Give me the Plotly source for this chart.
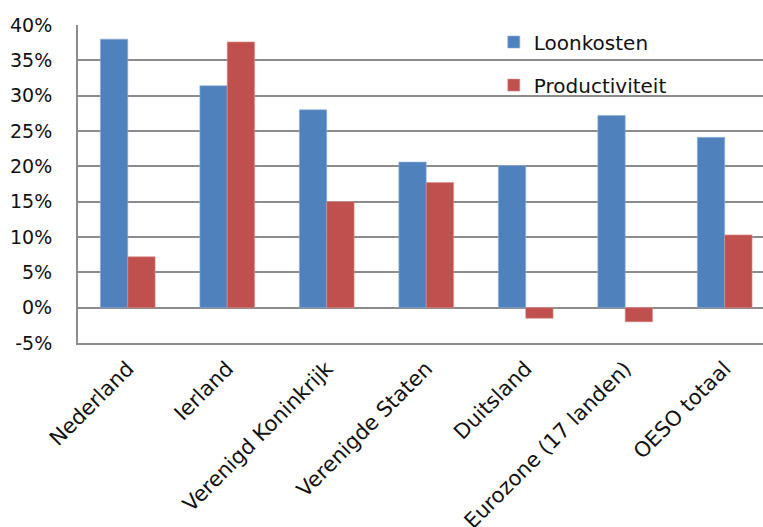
import plotly.graph_objects as go

# Groei van loonkosten en productiviteit per land
landen = ["Nederland", "Ierland", "Verenigd Koninkrijk", "Verenigde Staten",
          "Duitsland", "Eurozone (17 landen)", "OESO totaal"]
loonkosten = [38.0, 31.4, 28.0, 20.6, 20.1, 27.2, 24.1]
productiviteit = [7.2, 37.6, 15.0, 17.7, -1.5, -2.0, 10.3]
y_ticks = [-5, 0, 5, 10, 15, 20, 25, 30, 35, 40]
y_labels = [f"{v}%" for v in y_ticks]

FONT = "DejaVu Sans"
GRID = "#8c8c8c"

fig = go.Figure()
fig.add_trace(go.Bar(x=landen, y=loonkosten, name="Loonkosten",
                     marker=dict(color="#4F81BD", line=dict(color="#8fb0dc", width=0.6)),
                     legend="legend", showlegend=True))
fig.add_trace(go.Bar(x=landen, y=productiviteit, name="Productiviteit",
                     marker=dict(color="#C0504D", line=dict(color="#dc8e8c", width=0.6)),
                     legend="legend2", showlegend=True))

fig.update_layout(
    width=763, height=527,
    margin=dict(l=78, r=0, t=25, b=184),
    paper_bgcolor="white", plot_bgcolor="white",
    showlegend=True,
    barmode="group", bargap=0.45, bargroupgap=0,
    font=dict(family=FONT, size=19, color="#111111"),
    legend=dict(x=0.607, y=0.9465, xanchor="left", yanchor="middle",
                bgcolor="rgba(0,0,0,0)", font=dict(size=20)),
    legend2=dict(x=0.607, y=0.811, xanchor="left", yanchor="middle",
                 bgcolor="rgba(0,0,0,0)", font=dict(size=20)),
    xaxis=dict(
        range=[-0.5, 6.385],
        tickangle=-45,
        showgrid=False,
        showline=True, linecolor=GRID, linewidth=2,
        ticks="outside", ticklen=3, tickcolor="rgba(0,0,0,0)",
        tickfont=dict(family=FONT, size=21),
        automargin=False,
    ),
    yaxis=dict(
        range=[-5, 40],
        tickvals=y_ticks, ticktext=y_labels,
        showgrid=True, gridcolor=GRID, gridwidth=2,
        zeroline=True, zerolinecolor=GRID, zerolinewidth=2,
        showline=True, linecolor=GRID, linewidth=2, mirror=False,
        ticks="", ticklabelstandoff=20,
        tickfont=dict(family=FONT, size=19),
        automargin=False,
    ),
)

fig.write_html("out.html")
